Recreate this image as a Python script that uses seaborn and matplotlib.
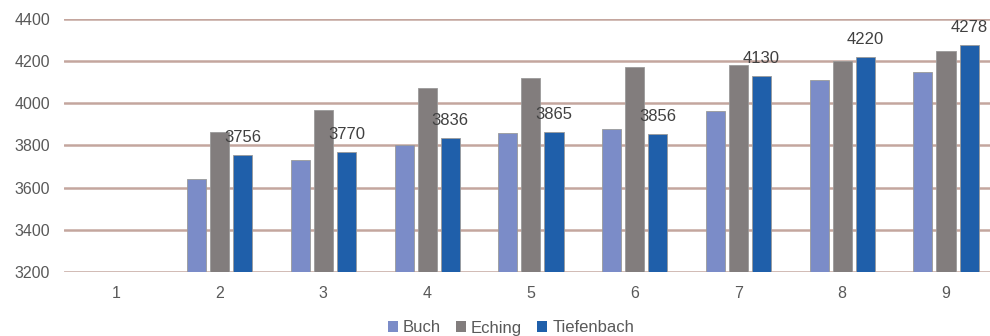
import numpy as np
import pandas as pd
import seaborn as sns
import matplotlib.pyplot as plt
from matplotlib.patches import Patch

# Data (category 1 has no bars)
categories = ["1", "2", "3", "4", "5", "6", "7", "8", "9"]
buch = [np.nan, 3640, 3732, 3800, 3860, 3879, 3965, 4111, 4147]
eching = [np.nan, 3862, 3966, 4073, 4122, 4171, 4182, 4199, 4250]
tiefenbach = [np.nan, 3756, 3770, 3836, 3865, 3856, 4130, 4220, 4278]
series = ["Buch", "Eching", "Tiefenbach"]
colors = ["#7b8cc8", "#827d7d", "#1f5faa"]
yticks = [3200, 3400, 3600, 3800, 4000, 4200, 4400]

df = pd.DataFrame({"cat": categories, "Buch": buch, "Eching": eching, "Tiefenbach": tiefenbach})
long_df = df.melt(id_vars="cat", var_name="Ort", value_name="Wert")

sns.set_theme(style="white")
plt.rcParams["font.family"] = ["Liberation Sans", "DejaVu Sans"]

fig = plt.figure(figsize=(9.9, 3.36), dpi=100)
ax = fig.add_axes([0.0646, 0.1905, 0.9354, 0.753])

sns.barplot(data=long_df, x="cat", y="Wert", hue="Ort", order=categories,
            hue_order=series, palette=colors, saturation=1, width=0.667, gap=0.175,
            edgecolor="#9a9a9a", linewidth=0.6, errorbar=None, ax=ax,
            legend=False, zorder=3)

ax.set_ylim(3200, 4400)
ax.set_xlim(-0.5, 8.424)
ax.set_yticks(yticks)
ax.grid(axis="y", color="#c4a69e", linewidth=1.8, zorder=0)
ax.set_axisbelow(True)
for s in ax.spines.values():
    s.set_visible(False)
ax.set_xlabel("")
ax.set_ylabel("")
ax.tick_params(axis="both", length=0, colors="#595959", labelsize=11.5)
ax.tick_params(axis="y", pad=10)
ax.tick_params(axis="x", pad=10)

# data labels on the Tiefenbach bars
for bar in ax.containers[2]:
    if bar is None or np.isnan(bar.get_height()):
        continue
    ax.annotate(f"{bar.get_height():.0f}", (bar.get_x() + bar.get_width() / 2, bar.get_height()),
                xytext=(0, 7), textcoords="offset points", ha="center", va="bottom",
                fontsize=12, color="#404040", zorder=4)

handles = [Patch(facecolor=c, edgecolor="none") for c in colors]
fig.legend(handles, series, loc="center", bbox_to_anchor=(511 / 990, 1 - 328 / 336),
           ncol=3, frameon=False, fontsize=12, labelcolor="#595959",
           handlelength=0.6, handleheight=0.6, handletextpad=0.3, columnspacing=0.9)

fig.savefig("out.png", dpi=100)
